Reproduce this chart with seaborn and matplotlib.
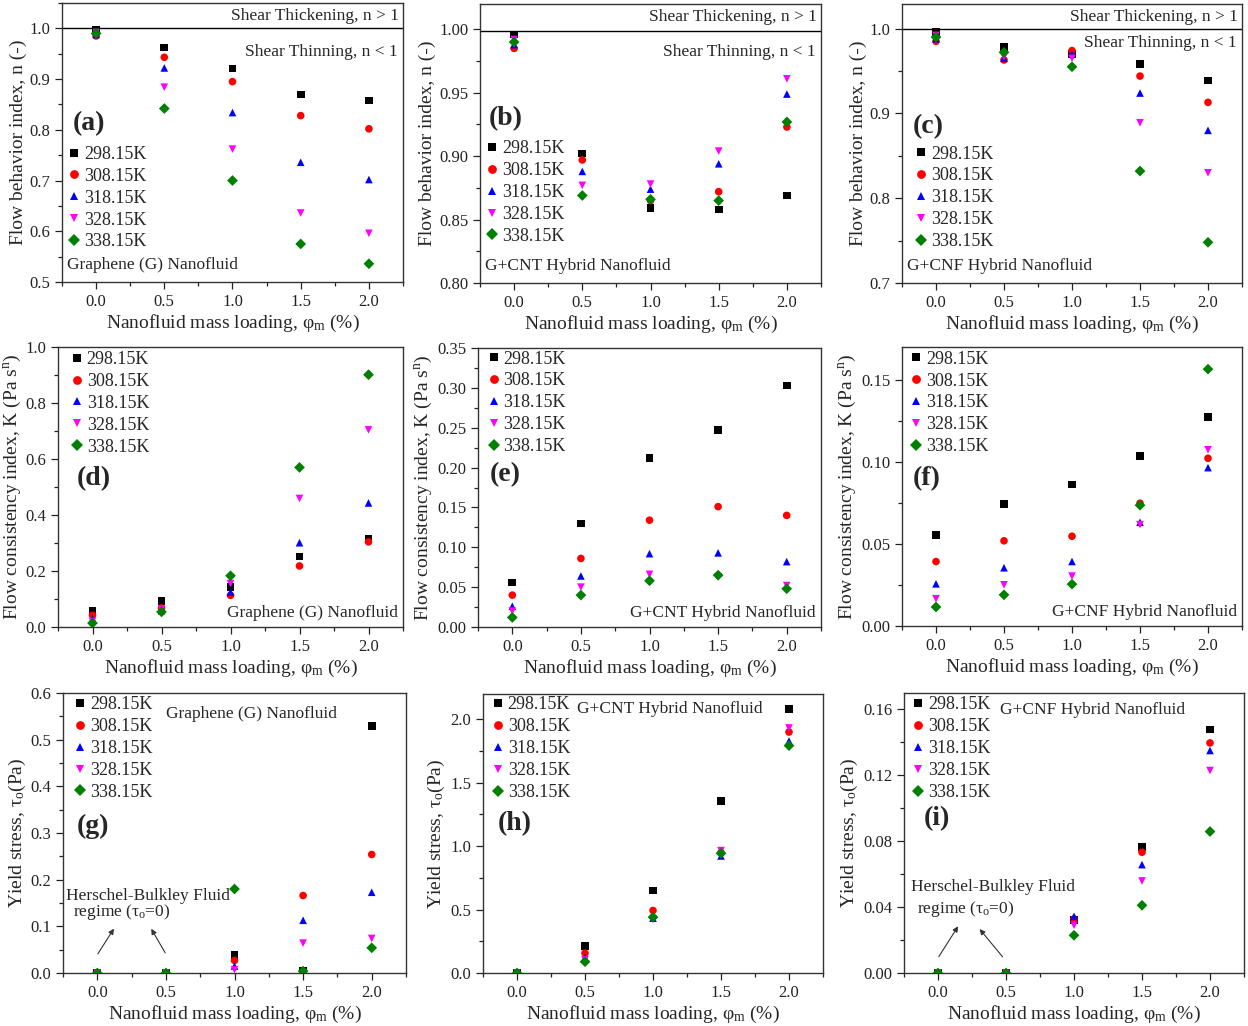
import numpy as np
import pandas as pd
import matplotlib
matplotlib.use("Agg")
import matplotlib.pyplot as plt
from matplotlib.ticker import MultipleLocator
import seaborn as sns

sns.set_style("ticks")
plt.rcParams['font.family'] = ['Liberation Serif', 'DejaVu Serif']
plt.rcParams['mathtext.fontset'] = 'custom'
plt.rcParams['mathtext.rm'] = 'Liberation Serif'
plt.rcParams['mathtext.it'] = 'Liberation Serif:italic'

# ---------------- data ----------------
loading = [0.0, 0.5, 1.0, 1.5, 2.0]
temps = ['298.15K', '308.15K', '318.15K', '328.15K', '338.15K']

# Flow behaviour index n (rows = temperatures)
n_G = [[0.997, 0.962, 0.921, 0.870, 0.858],
       [0.985, 0.943, 0.895, 0.828, 0.802],
       [0.988, 0.922, 0.834, 0.736, 0.702],
       [0.992, 0.884, 0.762, 0.636, 0.596],
       [0.990, 0.842, 0.700, 0.575, 0.536]]
n_CNT = [[0.996, 0.902, 0.859, 0.858, 0.869],
         [0.985, 0.897, 0.865, 0.872, 0.923],
         [0.988, 0.888, 0.874, 0.894, 0.949],
         [0.992, 0.877, 0.878, 0.904, 0.961],
         [0.990, 0.869, 0.866, 0.865, 0.927]]
n_CNF = [[0.996, 0.978, 0.970, 0.958, 0.939],
         [0.985, 0.963, 0.974, 0.944, 0.913],
         [0.988, 0.965, 0.970, 0.924, 0.880],
         [0.992, 0.967, 0.965, 0.889, 0.830],
         [0.990, 0.972, 0.955, 0.832, 0.748]]

# Flow consistency index K
K_G = [[0.058, 0.093, 0.143, 0.252, 0.316],
       [0.042, 0.068, 0.113, 0.218, 0.304],
       [0.030, 0.058, 0.125, 0.301, 0.443],
       [0.020, 0.063, 0.155, 0.459, 0.704],
       [0.014, 0.054, 0.183, 0.570, 0.901]]
K_CNT = [[0.056, 0.130, 0.212, 0.247, 0.303],
         [0.040, 0.086, 0.134, 0.151, 0.140],
         [0.026, 0.064, 0.092, 0.093, 0.082],
         [0.020, 0.050, 0.066, 0.063, 0.052],
         [0.012, 0.040, 0.058, 0.065, 0.048]]
K_CNF = [[0.0555, 0.0744, 0.0862, 0.1034, 0.1273],
         [0.0393, 0.0519, 0.0547, 0.0748, 0.1022],
         [0.0257, 0.0355, 0.0393, 0.0632, 0.0965],
         [0.0166, 0.0251, 0.0304, 0.0618, 0.1074],
         [0.0116, 0.0190, 0.0255, 0.0736, 0.1565]]

# Yield stress tau_o
tau_G = [[0.0, 0.0, 0.038, 0.005, 0.529],
         [0.0, 0.0, 0.027, 0.166, 0.254],
         [0.0, 0.0, 0.015, 0.113, 0.173],
         [0.0, 0.0, 0.007, 0.064, 0.074],
         [0.0, 0.0, 0.180, 0.004, 0.054]]
tau_CNT = [[0.0, 0.215, 0.650, 1.358, 2.081],
           [0.0, 0.157, 0.493, 0.949, 1.900],
           [0.0, 0.123, 0.432, 0.923, 1.830],
           [0.0, 0.105, 0.425, 0.965, 1.932],
           [0.0, 0.089, 0.440, 0.944, 1.793]]
tau_CNF = [[0.0, 0.0, 0.0320, 0.0764, 0.1478],
           [0.0, 0.0, 0.0328, 0.0733, 0.1397],
           [0.0, 0.0, 0.0344, 0.0658, 0.1351],
           [0.0, 0.0, 0.0290, 0.0559, 0.1229],
           [0.0, 0.0, 0.0229, 0.0411, 0.0859]]

colors = ['#000000', '#ff0000', '#0000ff', '#ff00ff', '#008000']
marks = ['s', 'o', '^', 'v', 'D']

W, H = 1248, 1026
fig = plt.figure(figsize=(W / 100, H / 100), dpi=100)

def make_ax(l, t, r, b):
    return fig.add_axes([l / W, 1 - b / H, (r - l) / W, (b - t) / H])

xlabel = r'Nanofluid mass loading, φ$_\mathrm{m}$ (%)'
lab_n = 'Flow behavior index, n (-)'
lab_K = r'Flow consistency index, K (Pa s$^\mathrm{n}$)'
lab_t = r'Yield stress, τ$_\mathrm{o}$(Pa)'

panels = [
    # data, box, ylim, major, minor, ylabel, letter, letterpos, legend(x,y), fluid text
    (n_G, (62, 3, 403, 282), (0.5, 1.05), 0.1, 0.05, lab_n, '(a)', (0.032, 0.569), (0.036, 0.459), 'Graphene (G) Nanofluid'),
    (n_CNT, (480, 4, 821, 283), (0.80, 1.02), 0.05, 0.025, lab_n, '(b)', (0.026, 0.588), (0.036, 0.483), 'G+CNT Hybrid Nanofluid'),
    (n_CNF, (902, 4, 1242, 283), (0.7, 1.029), 0.1, 0.05, lab_n, '(c)', (0.032, 0.560), (0.057, 0.464), 'G+CNF Hybrid Nanofluid'),
    (K_G, (58, 347, 403, 627), (0.0, 1.0), 0.2, 0.1, lab_K, '(d)', (0.055, 0.531), (0.055, 0.957), 'Graphene (G) Nanofluid'),
    (K_CNT, (478, 348, 821, 627), (0.0, 0.35), 0.05, 0.025, lab_K, '(e)', (0.034, 0.545), (0.046, 0.962), 'G+CNT Hybrid Nanofluid'),
    (K_CNF, (902, 347, 1242, 626), (0.0, 0.17), 0.05, 0.025, lab_K, '(f)', (0.031, 0.530), (0.042, 0.958), 'G+CNF Hybrid Nanofluid'),
    (tau_G, (63, 693, 406, 973), (0.0, 0.6), 0.1, 0.05, lab_t, '(g)', (0.039, 0.524), (0.050, 0.960), 'Graphene (G) Nanofluid'),
    (tau_CNT, (483, 694, 823, 973), (0.0, 2.2), 0.5, 0.25, lab_t, '(h)', (0.044, 0.537), (0.044, 0.963), 'G+CNT Hybrid Nanofluid'),
    (tau_CNF, (904, 693, 1244, 973), (0.0, 0.17), 0.04, 0.02, lab_t, '(i)', (0.057, 0.550), (0.042, 0.959), 'G+CNF Hybrid Nanofluid'),
]

fs_tick, fs_lab, fs_leg, fs_txt, fs_let = 12, 14, 13, 12.5, 20

for idx, (data, box, ylim, maj, mnr, ylab, letter, lpos, legpos, fluid) in enumerate(panels):
    ax = make_ax(*box)
    rows = []
    for ti, t in enumerate(temps):
        for xi, x in enumerate(loading):
            rows.append({'loading': x, 'value': data[ti][xi], 'T': t})
    df = pd.DataFrame(rows)
    sns.scatterplot(data=df, x='loading', y='value', hue='T', style='T',
                    hue_order=temps, style_order=temps,
                    palette=dict(zip(temps, colors)),
                    markers=dict(zip(temps, marks)),
                    s=30, linewidth=0, ax=ax, legend=True, zorder=3)
    ax.set_xlim(-0.25, 2.25)
    ax.set_ylim(*ylim)
    ax.xaxis.set_major_locator(MultipleLocator(0.5))
    ax.xaxis.set_minor_locator(MultipleLocator(0.25))
    ax.yaxis.set_major_locator(MultipleLocator(maj))
    ax.yaxis.set_minor_locator(MultipleLocator(mnr))
    ax.tick_params(which='both', direction='out', top=False, right=False,
                   labelsize=fs_tick, colors='#222222', width=0.9)
    ax.tick_params(which='major', length=5)
    ax.tick_params(which='minor', length=3)
    for sp in ax.spines.values():
        sp.set_color('#333333')
        sp.set_linewidth(1.0)
    ax.set_xlabel(xlabel, fontsize=fs_lab, labelpad=2)
    ax.set_ylabel(ylab, fontsize=fs_lab, labelpad=2)
    ax.text(lpos[0], lpos[1], letter, transform=ax.transAxes, fontsize=fs_let,
            fontweight='bold', ha='left', va='center')

    handles, labels = ax.get_legend_handles_labels()
    ax_h = box[3] - box[1]
    ax_w = box[2] - box[0]
    anchor_y = legpos[1] + 8.0 / ax_h
    anchor_x = legpos[0] - 6.5 / ax_w
    ax.legend(handles, labels, loc='upper left', bbox_to_anchor=(anchor_x, anchor_y),
              frameon=False, fontsize=fs_leg, handlelength=0.7, handletextpad=0.2,
              labelspacing=0.27, borderpad=0, borderaxespad=0, markerscale=1.15)

    if idx < 3:
        ax.axhline(1.0 if idx == 0 else 0.999, color='black', lw=1.0, zorder=2)
        thin_y = [0.824, 0.827, 0.859][idx]
        ax.text(0.987, 0.955, 'Shear Thickening, n > 1', transform=ax.transAxes,
                fontsize=fs_txt, ha='right', va='center')
        ax.text(0.985, thin_y, 'Shear Thinning, n < 1', transform=ax.transAxes,
                fontsize=fs_txt, ha='right', va='center')
        ax.text(0.015, 0.06, fluid, transform=ax.transAxes, fontsize=fs_txt,
                ha='left', va='center')
    elif idx < 6:
        ax.text(0.985, 0.05, fluid, transform=ax.transAxes, fontsize=fs_txt,
                ha='right', va='center')
    else:
        tx, ty = [(0.30, 0.926), (0.276, 0.945), (0.281, 0.938)][idx - 6]
        ax.text(tx, ty, fluid, transform=ax.transAxes, fontsize=fs_txt,
                ha='left', va='center')

    if idx == 6:
        ax.text(-0.227, 0.165, 'Herschel-Bulkley Fluid', fontsize=fs_txt, ha='left', va='center')
        ax.text(-0.178, 0.130, r'regime (τ$_\mathrm{o}$=0)', fontsize=fs_txt, ha='left', va='center')
        for (x0, y0), (x1, y1) in [((-0.007, 0.036), (0.132, 0.100)),
                                   ((0.505, 0.038), (0.383, 0.100))]:
            ax.annotate('', xy=(x1, y1), xytext=(x0, y0),
                        arrowprops=dict(arrowstyle='-|>', color='#333333', lw=0.8,
                                        mutation_scale=8))
    if idx == 8:
        ax.text(-0.195, 0.052, 'Herschel-Bulkley Fluid', fontsize=fs_txt, ha='left', va='center')
        ax.text(-0.151, 0.039, r'regime (τ$_\mathrm{o}$=0)', fontsize=fs_txt, ha='left', va='center')
        for (x0, y0), (x1, y1) in [((-0.005, 0.0085), (0.159, 0.0298)),
                                   ((0.488, 0.0085), (0.293, 0.0280))]:
            ax.annotate('', xy=(x1, y1), xytext=(x0, y0),
                        arrowprops=dict(arrowstyle='-|>', color='#333333', lw=0.8,
                                        mutation_scale=8))

fig.savefig('out.png', dpi=100)
